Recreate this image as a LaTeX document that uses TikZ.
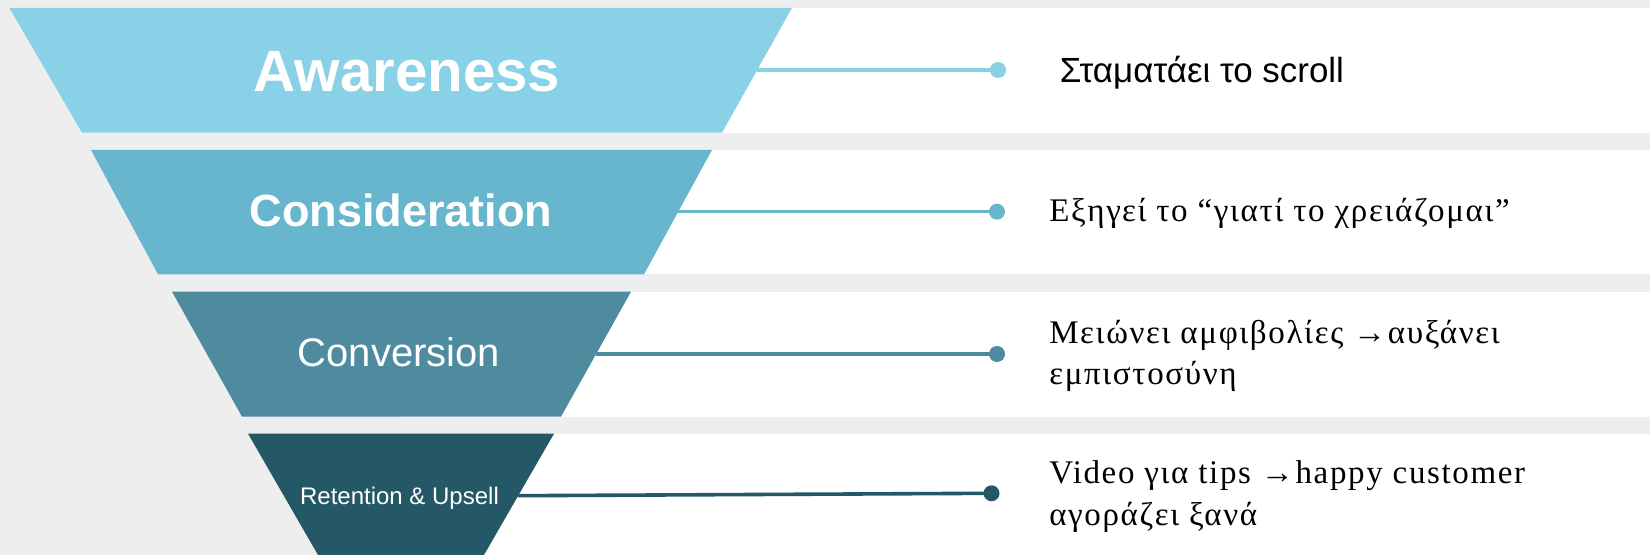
\documentclass[tikz,border=0pt]{standalone}
\usepackage{fontspec}
\setmainfont{Liberation Serif}[LetterSpace=5]
\newfontfamily\arialf{Liberation Sans}
\definecolor{bg}{HTML}{EEEEEE}
\definecolor{c1}{HTML}{89D1E6}
\definecolor{c2}{HTML}{67B6CE}
\definecolor{c3}{HTML}{4E8B9E}
\definecolor{c4}{HTML}{245866}
\tikzset{
  title/.style={text=white, inner sep=0pt, anchor=base, font=\arialf},
  label/.style={text=black, inner sep=0pt, anchor=base west, align=left, font=\fontsize{24.75}{31.3}\selectfont},
  dot/.style={circle, fill=#1, inner sep=0pt, minimum size=12pt},
  conn/.style={draw=#1, line width=2.7pt},
}
\begin{document}
\begin{tikzpicture}[x=0.75pt,y=-0.75pt]
\fill[bg] (0,0) rectangle (1650,555);
\useasboundingbox (0,0) rectangle (1650,555);
% rows
\fill[white] (400,8) rectangle (1650,132.7);
\fill[white] (400,150) rectangle (1650,274.3);
\fill[white] (400,291.7) rectangle (1650,416.7);
\fill[white] (400,433.7) rectangle (1650,555);
% funnel
\fill[c1] (9.4,8) -- (792,8) -- (722,132.7) -- (82,132.7) -- cycle;
\fill[c2] (91,150) -- (712,150) -- (644,274.3) -- (158,274.3) -- cycle;
\fill[c3] (172,291.7) -- (631,291.7) -- (561,416.7) -- (242,416.7) -- cycle;
\fill[c4] (248,433.7) -- (554,433.7) -- (484,555) -- (318,555) -- cycle;
% titles
\node[title, font=\arialf\bfseries\fontsize{43.7}{43.7}\selectfont] (n1) at (407,91.7) {Awareness};
\node[title, font=\arialf\bfseries\fontsize{33.8}{33.8}\selectfont] (n2) at (401,226.7) {Consideration};
\node[title, font=\arialf\fontsize{30}{30}\selectfont] (n3) at (399,366.7) {Conversion};
\node[title, font=\arialf\fontsize{18}{18}\selectfont] (n4) at (399.5,504.3) {Retention \& Upsell};
% connectors
\coordinate (s1) at (757,70);
\coordinate (s2) at (678,211.7);
\coordinate (s3) at (596,354);
\coordinate (s4) at (518,495.7);
\node[dot=c1] (d1) at (998,70) {};
\node[dot=c2] (d2) at (997,211.7) {};
\node[dot=c3] (d3) at (997,354) {};
\node[dot=c4] (d4) at (991.5,493.3) {};
\draw[conn=c1] (s1) -- (d1.center);
\draw[conn=c2] (s2) -- (d2.center);
\draw[conn=c3] (s3) -- (d3.center);
\draw[conn=c4] (s4) -- (d4.center);
% labels
\node[label, font=\arialf\fontsize{26.2}{31.3}\selectfont] (t1) at (1059.5,82.7) {Σταματάει το scroll};
\node[label] (t2) at (1049,221.7) {Εξηγεί το “γιατί το χρειάζομαι”};
\node[label] (t3) at (1049,385) {Μειώνει αμφιβολίες →αυξάνει\\εμπιστοσύνη};
\node[label] (t4) at (1049,525.7) {Video για tips →happy customer\\αγοράζει ξανά};
\end{tikzpicture}
\end{document}
